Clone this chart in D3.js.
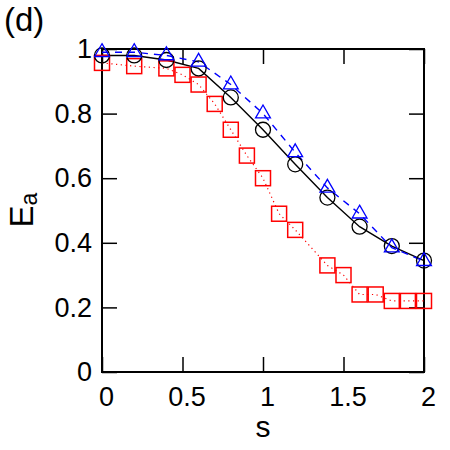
<!DOCTYPE html>
<html><head><meta charset="utf-8">
<script src="https://cdn.jsdelivr.net/npm/d3@7"></script>
<style>body{margin:0;background:#fff}svg{display:block}text{font-family:"Liberation Sans",Arial,Helvetica,sans-serif}</style>
</head><body>
<script>
const sBlack = [0,0.2,0.4,0.6,0.8,1.0,1.2,1.4,1.6,1.8,2.0];
const eBlack = [0.98,0.98,0.966,0.94,0.85,0.75,0.643,0.54,0.45,0.39,0.345];
const sBlue = [0,0.2,0.4,0.6,0.8,1.0,1.2,1.4,1.6,1.8,2.0];
const eBlue = [0.99,0.99,0.98,0.96,0.89,0.80,0.68,0.57,0.49,0.385,0.343];
const sRed = [0,0.2,0.4,0.5,0.6,0.7,0.8,0.9,1.0,1.1,1.2,1.4,1.5,1.6,1.7,1.8,1.9,2.0];
const eRed = [0.957,0.947,0.94,0.92,0.89,0.83,0.75,0.67,0.60,0.49,0.44,0.33,0.30,0.24,0.24,0.22,0.22,0.22];
const xTicks = [0,0.5,1,1.5,2];
const xTickLabels = ["0","0.5","1","1.5","2"];
const yTicks = [0,0.2,0.4,0.6,0.8,1];
const yTickLabels = ["0","0.2","0.4","0.6","0.8","1"];

const W=450,H=450;
const svg=d3.select("body").append("svg").attr("width",W).attr("height",H);
const x=d3.scaleLinear().domain([0,2]).range([102,424]);
const y=d3.scaleLinear().domain([0,1]).range([372,49]);
const TL=15;

// frame
svg.append("rect").attr("x",x(0)).attr("y",y(1)).attr("width",x(2)-x(0)).attr("height",y(0)-y(1))
  .attr("fill","none").attr("stroke","#000").attr("stroke-width",2);

// axes with inward ticks
const gB=svg.append("g").attr("transform",`translate(0,${y(0)})`)
  .call(d3.axisBottom(x).tickValues(xTicks).tickSize(-TL).tickFormat((d,i)=>xTickLabels[i]).tickPadding(15));
const gT=svg.append("g").attr("transform",`translate(0,${y(1)})`)
  .call(d3.axisTop(x).tickValues(xTicks).tickSize(-TL).tickFormat(""));
const gL=svg.append("g").attr("transform",`translate(${x(0)},0)`)
  .call(d3.axisLeft(y).tickValues(yTicks).tickSize(-TL).tickFormat((d,i)=>yTickLabels[i]).tickPadding(10));
const gR=svg.append("g").attr("transform",`translate(${x(2)},0)`)
  .call(d3.axisRight(y).tickValues(yTicks).tickSize(-TL).tickFormat(""));
[gB,gT,gL,gR].forEach(g=>{
  g.select(".domain").remove();
  g.selectAll(".tick line").attr("stroke","#000").attr("stroke-width",1.5);
  g.selectAll("text").attr("font-size",27).attr("fill","#000").attr("font-family","'Liberation Sans',Arial,sans-serif");
});
gB.selectAll("text").attr("dx",4);

// lines
const line=(xs,ys)=>d3.line().x((d,i)=>x(xs[i])).y((d,i)=>y(ys[i]))(xs);
svg.append("path").attr("d",line(sRed,eRed)).attr("fill","none").attr("stroke","#ff0000")
  .attr("stroke-width",1.2).attr("stroke-dasharray","1.2,3.5");
svg.append("path").attr("d",line(sBlack,eBlack)).attr("fill","none").attr("stroke","#000").attr("stroke-width",1.4);
svg.append("path").attr("d",line(sBlue,eBlue)).attr("fill","none").attr("stroke","#0000ff")
  .attr("stroke-width",1.4).attr("stroke-dasharray","7,6");

// markers
svg.append("g").selectAll("rect").data(sRed).join("rect")
  .attr("x",(d)=>x(d)-7.5).attr("y",(d,i)=>y(eRed[i])-7.5).attr("width",15).attr("height",15)
  .attr("fill","none").attr("stroke","#ff0000").attr("stroke-width",1.5);
svg.append("g").selectAll("circle").data(sBlack).join("circle")
  .attr("cx",d=>x(d)).attr("cy",(d,i)=>y(eBlack[i])).attr("r",7.5)
  .attr("fill","none").attr("stroke","#000").attr("stroke-width",1.3);
const tri=d3.symbol().type(d3.symbolTriangle).size(95);
svg.append("g").selectAll("path").data(sBlue).join("path")
  .attr("transform",(d,i)=>`translate(${x(d)},${y(eBlue[i])})`).attr("d",tri)
  .attr("fill","none").attr("stroke","#0000ff").attr("stroke-width",1.3);

// labels
svg.append("text").attr("x",4).attr("y",31).attr("font-size",33).text("(d)");
svg.append("text").attr("x",263).attr("y",437).attr("text-anchor","middle").attr("font-size",30).text("s");
const yl=svg.append("text").attr("transform","translate(33,210) rotate(-90)").attr("text-anchor","middle").attr("font-size",33);
yl.append("tspan").text("E");
yl.append("tspan").attr("font-size",23).attr("dy",4).text("a");
</script>
</body></html>
